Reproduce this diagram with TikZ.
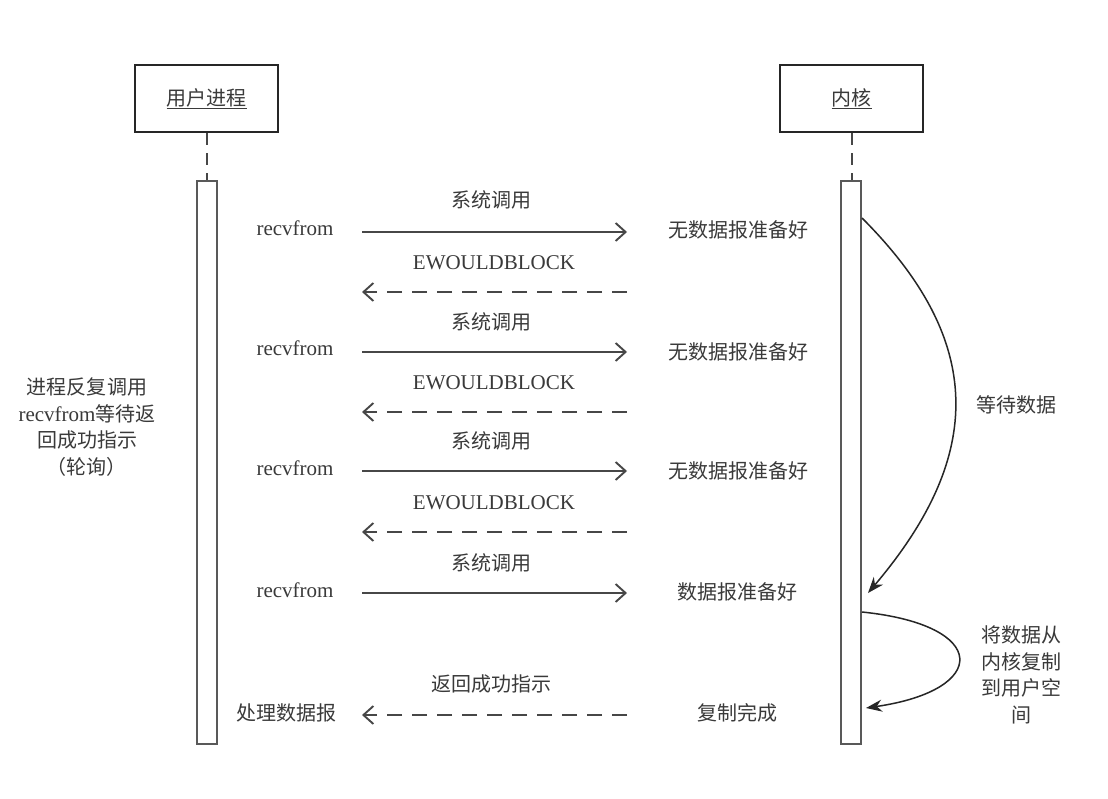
\documentclass[tikz,border=0pt]{standalone}
\usepackage{fontspec}
\setmainfont{Liberation Serif}
\newfontfamily\cjk{Noto Sans CJK SC}
\usetikzlibrary{arrows.meta}
\definecolor{txt}{HTML}{3A3A3A}
\definecolor{ln}{HTML}{474747}
\tikzset{
  cn/.style={text=txt, font=\cjk\fontsize{20}{26.5}\selectfont, inner sep=0pt, align=center},
  lat/.style={text=txt, font=\fontsize{21}{26.5}\selectfont, inner sep=0pt},
  hdr/.style={draw=black!85, line width=2.2pt, minimum width=143pt, minimum height=67pt, fill=white, inner sep=0pt},
  actbar/.style={draw=black!65, line width=2.8pt, fill=white, minimum width=20pt, minimum height=563pt, inner sep=0pt},
  life/.style={draw=ln, line width=2pt, dash pattern=on 12pt off 8pt},
  call/.style={draw=ln, line width=1.9pt, -{Straight Barb[length=10pt,width=18pt]}},
  ret/.style={call, dash pattern=on 15pt off 10pt},
  wait/.style={draw=black!85, line width=1.5pt, -{Stealth[length=16pt,width=12pt]}},
}
\begin{document}
\begin{tikzpicture}[x=1pt,y=-1pt]
\useasboundingbox[fill=white] (0,0) rectangle (1108,798);
% headers
\node[hdr] (user) at (206.5,98.5) {};
\node[cn] at (user.center) {\underline{用户进程}};
\node[hdr] (kern) at (851.5,98.5) {};
\node[cn] at (kern.center) {\underline{内核}};
% activation bars
\node[actbar] (ubar) at (207,462.5) {};
\node[actbar] (kbar) at (851,462.5) {};
\draw[life] (user.south) -- (user.south |- ubar.north);
\draw[life] (kern.south) -- (kern.south |- kbar.north);
% arrow end points
\foreach \n/\y in {1/232,2/352,3/471,4/593,r1/292,r2/412,r3/532,r4/715}{
  \coordinate (L\n) at (362,\y);
  \coordinate (R\n) at (627,\y);
}
% calls
\foreach \n/\y in {1/200,2/322,3/441,4/563}{
  \node[cn] (sys\n) at (491,\y) {系统调用};
}
\foreach \n/\y in {1/228,2/348,3/468,4/590}{
  \node[lat] (rv\n) at (295,\y) {recvfrom};
}
\foreach \n in {1,2,3,4}{
  \draw[call] (L\n) -- (R\n);
}
\foreach \n/\y in {1/263,2/383,3/503}{
  \node[lat] (ew\n) at (494,\y) {EWOULDBLOCK};
}
\foreach \n in {r1,r2,r3,r4}{
  \draw[ret] (R\n) -- (L\n);
}
\foreach \n/\y in {1/230,2/352,3/471}{
  \node[cn] (nd\n) at (738,\y) {无数据报准备好};
}
\node[cn] (rdy) at (737,592) {数据报准备好};
\node[cn] (done) at (737,713) {复制完成};
\node[cn] (succ) at (491,684) {返回成功指示};
\node[cn] (proc) at (286,713) {处理数据报};
% left note
\node[cn] (poll) at (87,427) {进程反复调用\\{\rmfamily\fontsize{21}{26.5}\selectfont recvfrom}等待返\\回成功指示\\（轮询）};
% kernel curves
\coordinate (k1) at (862,218);
\coordinate (k2) at (868,593);
\coordinate (k3) at (862,612);
\coordinate (k4) at (866,708);
\draw[wait] (k1) .. controls (985,341) and (985,455) .. (k2);
\draw[wait] (k3) .. controls (990,625) and (990,690) .. (k4);
\node[cn] (waitd) at (1016,405) {等待数据};
\node[cn] (copy) at (1021,675) {将数据从\\内核复制\\到用户空\\间};
\end{tikzpicture}
\end{document}
